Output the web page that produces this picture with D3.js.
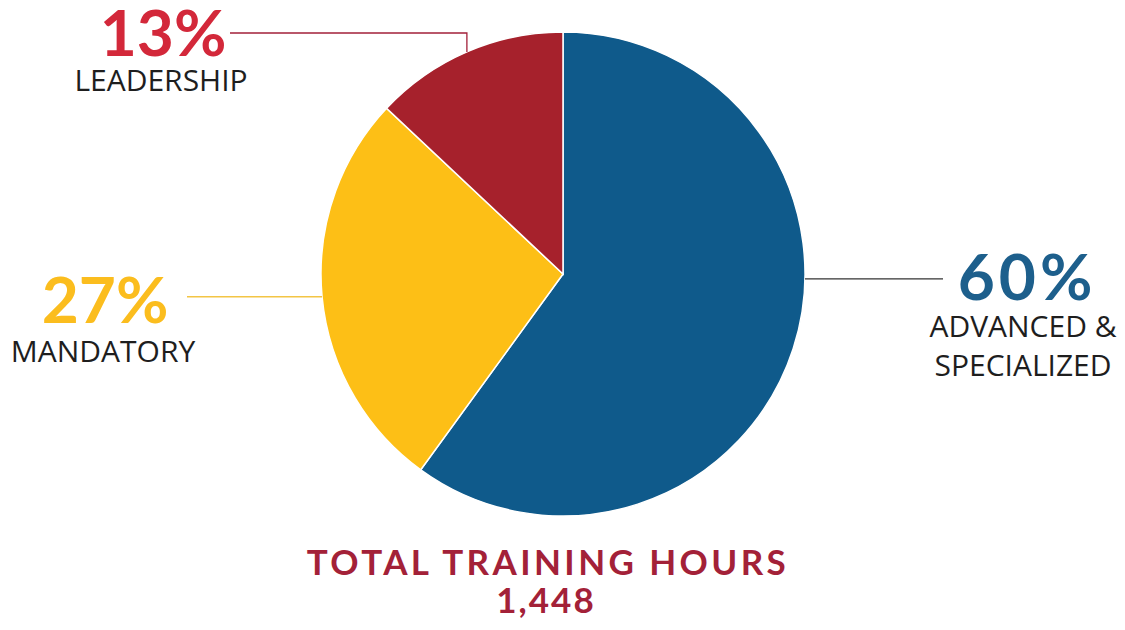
<!DOCTYPE html>
<html>
<head>
<meta charset="utf-8">
<script src="https://cdn.jsdelivr.net/npm/d3@7.9.0/dist/d3.min.js"></script>
<style>
  html, body { margin: 0; padding: 0; background: #fff; }
  svg { display: block; }
  .pct { font-family: Lato, sans-serif; font-weight: 700; }
  .lbl { font-family: "Open Sans", sans-serif; font-weight: 400; fill: #1e1e1e; }
  .total { font-family: Lato, sans-serif; font-weight: 700; fill: #a32138; }
</style>
</head>
<body>
<div id="chart"></div>
<script>
// chart data
const categories = ["ADVANCED & SPECIALIZED", "MANDATORY", "LEADERSHIP"];
const shares = [60, 27, 13];
const labelLines = [["ADVANCED &", "SPECIALIZED"], ["MANDATORY"], ["LEADERSHIP"]];
const colors = ["#0f5a8b", "#fdbf16", "#a6212c"];
const pctColors = ["#1d5f8c", "#fbbd1e", "#d3283a"];
const lineColors = ["#333333", "#f3c545", "#a3203a"];
const totalLabel = "TOTAL TRAINING HOURS";
const totalValue = "1,448";

const width = 1125;
const height = 630;
const cx = 563, cy = 274, radius = 242;

const svg = d3
  .select("#chart")
  .append("svg")
  .attr("width", width)
  .attr("height", height);

const data = categories.map((c, i) => ({ name: c, value: shares[i], i }));

const pie = d3.pie().sort(null).value((d) => d.value);
const arc = d3.arc().innerRadius(0).outerRadius(radius);
const arcs = pie(data);

const g = svg.append("g").attr("transform", `translate(${cx},${cy})`);

g.selectAll("path")
  .data(arcs)
  .join("path")
  .attr("d", arc)
  .attr("fill", (d) => colors[d.data.i])
  .attr("stroke", "#ffffff")
  .attr("stroke-width", 1.5);

// point on the rim at a given angle (0 = top, clockwise)
const rim = (a) => [Math.sin(a) * radius, -Math.cos(a) * radius];
const mid = (d) => (d.startAngle + d.endAngle) / 2;

// leader lines
const yellow = arcs[1], red = arcs[2];

// blue: horizontal to the right, just below the centre
const bP = rim(Math.PI / 2 + 0.02);
g.append("path")
  .attr("d", d3.line()([bP, [380, bP[1]]]))
  .attr("stroke", lineColors[0])
  .attr("stroke-width", 1.3)
  .attr("fill", "none");

// yellow: horizontal to the left at slice middle
const yP = rim(mid(yellow));
g.append("path")
  .attr("d", d3.line()([yP, [-376, yP[1]]]))
  .attr("stroke", lineColors[1])
  .attr("stroke-width", 1.3)
  .attr("fill", "none");

// red: up from slice middle, then left
const rP = rim(mid(red));
g.append("path")
  .attr("d", d3.line()([rP, [rP[0], -241], [-333, -241]]))
  .attr("stroke", lineColors[2])
  .attr("stroke-width", 1.3)
  .attr("fill", "none");

// labels
const labelPos = [
  { x: 1025, y: 300, lines: [337, 376], ls: 4 },
  { x: 105, y: 323, lines: [362], ls: 0 },
  { x: 163, y: 56, lines: [91], ls: 0 },
];

labelPos.forEach((p, i) => {
  svg.append("text")
    .attr("class", "pct")
    .attr("x", p.x + p.ls / 2)
    .attr("y", p.y)
    .attr("text-anchor", "middle")
    .attr("fill", pctColors[i])
    .style("font-size", "64px")
    .style("letter-spacing", p.ls + "px")
    .text(shares[i] + "%");
  labelLines[i].forEach((t, j) => {
    svg.append("text")
      .attr("class", "lbl")
      .attr("x", p.x - 2)
      .attr("y", p.lines[j])
      .attr("text-anchor", "middle")
      .style("font-size", "30px")
      .text(t);
  });
});

svg.append("text")
  .attr("class", "total")
  .attr("x", 548)
  .attr("y", 575)
  .attr("text-anchor", "middle")
  .style("font-size", "35px")
  .style("letter-spacing", "3.4px")
  .text(totalLabel);

svg.append("text")
  .attr("class", "total")
  .attr("x", 546)
  .attr("y", 613)
  .attr("text-anchor", "middle")
  .style("font-size", "35px")
  .style("letter-spacing", "2px")
  .text(totalValue);
</script>
</body>
</html>
